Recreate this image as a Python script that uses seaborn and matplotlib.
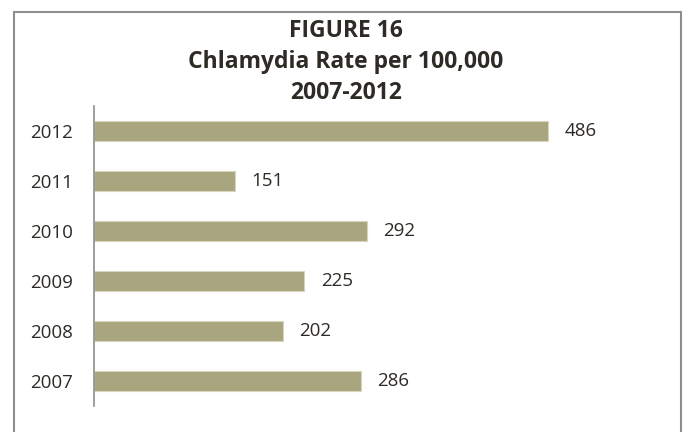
import matplotlib
matplotlib.use("Agg")
import matplotlib.pyplot as plt
from matplotlib.lines import Line2D
import seaborn as sns
import pandas as pd

# Chart data
years = ["2012", "2011", "2010", "2009", "2008", "2007"]
rates = [486, 151, 292, 225, 202, 286]
title_lines = ["FIGURE 16", "Chlamydia Rate per 100,000", "2007-2012"]

BAR_COLOR = "#A9A57E"
TEXT_COLOR = "#2E2A25"
FRAME_COLOR = "#8E8E8E"

sns.set_theme(style="white")
plt.rcParams["font.family"] = ["Open Sans", "DejaVu Sans"]

df = pd.DataFrame({"year": years, "rate": rates})

fig = plt.figure(figsize=(6.83, 4.32), dpi=100)
ax = fig.add_axes([94 / 683, 1 - 406 / 432, (654 - 94) / 683, 300 / 432])

sns.barplot(data=df, x="rate", y="year", order=years, color=BAR_COLOR,
            width=0.4, orient="h", saturation=1, ax=ax,
            edgecolor="#D8D5BF", linewidth=0.8)

ax.set_xlim(0, 600)
ax.set_ylim(5.5, -0.5)
ax.set_xlabel("")
ax.set_ylabel("")
ax.set_xticks([])
for side in ["top", "right", "bottom"]:
    ax.spines[side].set_visible(False)
ax.spines["left"].set_color(FRAME_COLOR)
ax.spines["left"].set_linewidth(1.2)
ax.tick_params(axis="y", length=0, pad=15, labelsize=13.5, labelcolor=TEXT_COLOR)

for container in ax.containers:
    ax.bar_label(container, labels=[str(v) for v in rates], padding=12,
                 fontsize=13.5, color=TEXT_COLOR)

# Title block
title_y = [1 - 31 / 432, 1 - 62 / 432, 1 - 93 / 432]
for text, y in zip(title_lines, title_y):
    fig.text(346 / 683, y, text, ha="center", va="center",
             fontsize=16.5, fontweight="bold", color=TEXT_COLOR)

# Outer frame (open at the bottom)
l, r, t = 14 / 683, 681 / 683, 1 - 12 / 432
for xs, ys in [([l, l], [0, t]), ([l, r], [t, t]), ([r, r], [t, 0])]:
    fig.add_artist(Line2D(xs, ys, transform=fig.transFigure,
                          color=FRAME_COLOR, linewidth=1.5))

fig.savefig("out.png", dpi=100)
